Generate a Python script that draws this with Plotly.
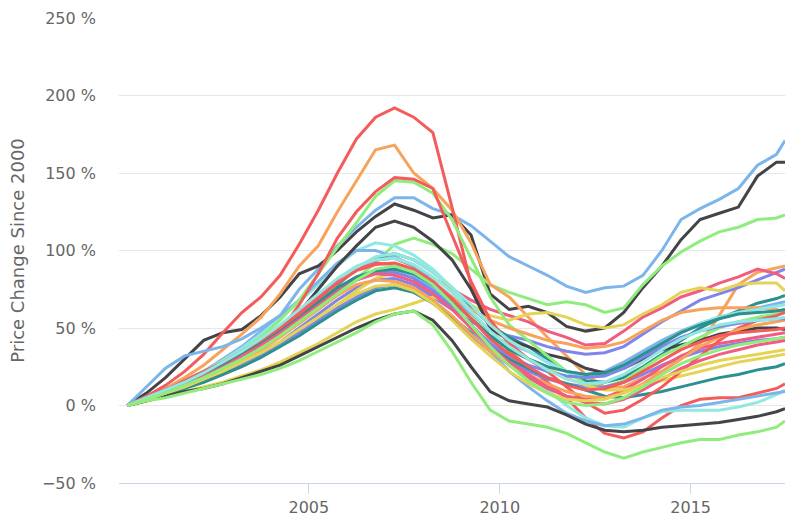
import pandas as pd
import plotly.graph_objects as go

# Semiannual observation dates (x values)
dates = list(pd.date_range("2000-04-01", "2017-04-01", freq="6MS").strftime("%Y-%m-%d")) + ["2017-06-21"]

# Price change since 2000 (%), one list per series
blue_top   = [0,5,10,16,22,30,38,48,58,75, 88,103,115,126,134,134,127,123,116,106, 96,90,84,77,73,76,77,84,100,120, 127,133,140,155,162,171]
black_top  = [0,8,18,30,42,47,49,58,70,85, 90,100,112,122,130,126,121,123,110,72, 62,64,60,51,48,50,60,76,90,107, 120,124,128,148,157,157]
green_top  = [0,5,10,15,20,26,32,38,45,53, 62,72,82,92,104,108,104,98,88,78, 73,69,65,67,65,60,63,78,90,99, 106,112,115,120,121,123]
orange_top = [0,5,11,18,26,36,46,57,72,90, 103,125,145,165,168,150,140,126,105,78, 70,57,44,32,20,12,12,18,22,30, 40,58,78,86,89,90]
purple_a   = [0,4,8,12,17,22,28,34,41,50, 59,68,76,81,82,78,70,62,54,48, 45,42,38,35,33,34,38,46,54,61, 68,72,76,81,86,88]
pink_a     = [0,5,10,15,21,27,33,40,48,57, 67,78,88,94,95,90,82,75,68,62, 58,54,48,44,39,40,48,57,63,70, 74,79,83,88,85,82]
yellow_a   = [0,4,8,12,16,21,27,33,40,48, 56,65,74,82,86,85,82,75,65,58, 55,59,60,57,52,50,52,59,65,73, 76,74,78,79,79,74]
teal_a     = [0,5,10,15,20,26,33,40,48,57, 67,78,88,95,98,94,86,76,64,52, 44,38,30,22,16,15,18,25,33,42, 50,56,61,66,69,71]
red_top    = [0,6,13,22,33,47,60,70,84,104, 126,150,172,186,192,186,176,128,78,50, 35,25,15,5,-8,-18,-21,-17,-8,0, 4,5,5,8,11,14]
cyan_a     = [0,5,10,16,22,29,37,46,56,67, 78,90,100,105,103,97,88,76,60,42, 30,20,10,0,-8,-13,-14,-8,-4,-3, -3,-3,-1,2,7,10]
blue_b     = [0,12,24,32,35,38,43,50,58,68, 80,92,100,100,96,90,80,70,58,45, 40,35,28,22,20,22,28,35,42,48, 53,57,60,63,66,67]
black_b    = [0,5,10,15,20,26,33,40,48,60, 75,90,103,115,119,115,106,94,75,50, 42,38,33,30,24,21,24,30,36,39, 42,46,48,50,50,49]
green_b    = [0,4,9,14,20,27,35,44,55,68, 85,102,118,135,145,144,137,120,95,70, 52,42,32,22,14,12,16,24,32,38, 44,50,54,57,59,60]
orange_b   = [0,4,9,14,19,25,31,38,46,55, 64,73,81,86,88,85,78,70,62,55, 50,46,42,40,37,38,41,48,55,60, 62,63,63,63,62,60]
purple_b   = [0,4,8,12,16,21,27,33,40,47, 55,63,70,76,78,74,66,56,45,35, 28,22,17,14,12,12,15,20,26,31, 35,38,40,42,43,44]
pink_b     = [0,5,10,15,21,27,34,42,51,61, 71,81,89,92,91,86,77,65,50,36, 26,18,11,6,4,5,10,17,25,32, 37,40,42,44,46,47]
yellow_b   = [0,3,6,9,12,15,19,23,28,34, 40,47,54,59,62,66,70,66,57,45, 36,30,24,18,13,10,10,13,16,19, 22,25,28,30,32,33]
teal_b     = [0,3,7,11,15,20,25,31,38,45, 53,61,68,74,76,73,66,57,47,38, 30,24,18,14,10,6,5,7,9,12, 15,18,20,23,25,27]
red_b      = [0,4,9,14,20,26,32,40,48,65, 85,108,125,138,147,146,140,110,80,55, 40,30,22,12,2,-5,-3,4,12,22, 32,42,50,55,58,60]
cyan_b     = [0,5,10,15,21,27,34,41,49,58, 68,79,89,96,98,94,86,76,65,52, 42,35,28,22,18,20,25,32,40,47, 53,57,60,62,64,65]
blue_c     = [0,4,8,13,18,24,30,37,45,54, 63,72,81,87,88,84,76,64,50,35, 22,12,3,-5,-10,-13,-12,-8,-3,-1, 0,2,4,6,8,9]
black_c    = [0,3,6,9,11,14,18,22,26,32, 38,44,50,55,59,61,55,42,25,9, 3,1,-1,-6,-12,-16,-17,-16,-14,-13, -12,-11,-9,-7,-4,-2]
green_c    = [0,3,5,8,11,14,17,20,24,29, 35,41,47,54,59,61,52,35,15,-3, -10,-12,-14,-18,-24,-30,-34,-30,-27,-24, -22,-22,-19,-17,-14,-10]
orange_c   = [0,4,8,12,17,23,29,36,44,53, 62,71,78,81,80,76,68,58,46,35, 27,20,14,9,6,5,8,14,22,30, 38,44,49,52,54,55]
purple_c   = [0,5,10,15,20,26,33,40,48,57, 66,75,82,86,86,82,74,64,52,40, 32,26,22,19,18,19,24,31,38,44, 48,51,53,55,56,56]
pink_c     = [0,5,10,15,20,26,32,39,47,56, 65,74,81,85,84,80,72,62,50,38, 28,20,12,6,2,1,4,10,17,24, 29,33,36,39,41,42]
yellow_c   = [0,4,8,12,17,22,28,34,41,49, 57,65,72,77,78,74,66,55,43,32, 22,14,8,4,3,4,8,13,18,22, 26,29,31,33,35,36]
teal_c     = [0,5,10,15,21,27,34,41,49,58, 67,76,83,87,88,85,78,68,56,45, 36,30,25,22,20,21,26,33,40,47, 52,56,59,60,61,62]
red_c      = [0,5,10,16,22,28,35,42,50,59, 69,79,87,91,92,88,80,69,56,43, 33,25,18,13,10,11,15,22,29,36, 41,45,47,48,49,50]
cyan_c     = [0,5,10,15,21,28,35,43,52,62, 72,82,90,94,95,91,83,73,61,48, 38,30,23,17,14,15,20,28,36,43, 48,52,54,55,56,57]
green_d    = [0,4,8,13,18,24,30,37,45,54, 63,72,81,88,90,86,78,66,52,38, 26,16,8,2,0,1,5,12,20,27, 32,36,39,41,43,44]

series = [blue_top, black_top, green_top, orange_top, purple_a, pink_a, yellow_a, teal_a, red_top, cyan_a,
          blue_b, black_b, green_b, orange_b, purple_b, pink_b, yellow_b, teal_b, red_b, cyan_b,
          blue_c, black_c, green_c, orange_c, purple_c, pink_c, yellow_c, teal_c, red_c, cyan_c,
          green_d]

palette = ["#7cb5ec", "#434348", "#90ed7d", "#f7a35c", "#8085e9",
           "#f15c80", "#e4d354", "#2b908f", "#f45b5b", "#91e8e1"]
colors = [palette[i % 10] for i in range(30)] + ["#90ed7d"]

tick_vals = ["2005-01-01", "2010-01-01", "2015-01-01"]
tick_text = ["2005", "2010", "2015"]

fig = go.Figure()
for i, s in enumerate(series):
    fig.add_trace(go.Scatter(x=dates, y=s, mode="lines",
                             line=dict(color=colors[i], width=3),
                             hoverinfo="skip", showlegend=False))

font = dict(family="DejaVu Sans", size=16, color="#666666")
fig.update_layout(
    width=785, height=520,
    margin=dict(l=119, r=0, t=18, b=37),
    paper_bgcolor="white", plot_bgcolor="white",
    showlegend=False, font=font,
    xaxis=dict(type="date", range=["2000-01-12", "2017-06-21"],
               tickvals=tick_vals, ticktext=tick_text,
               showgrid=False, zeroline=False,
               showline=True, linecolor="#ccd6eb", linewidth=1,
               ticks="outside", ticklen=10, tickcolor="#ccd6eb",
               tickfont=font),
    yaxis=dict(range=[-50, 250], dtick=50, ticksuffix=" %",
               showgrid=True, gridcolor="#e6e6e6", gridwidth=1,
               zeroline=False, showline=False,
               ticklabelstandoff=22, tickfont=font,
               title=dict(text="Price Change Since 2000",
                          font=dict(family="DejaVu Sans", size=18, color="#666666"),
                          standoff=12)),
)
fig.write_html("out.html",
               config={"displayModeBar": False},
               post_script="document.body.style.margin='0';document.body.style.overflow='hidden';")
